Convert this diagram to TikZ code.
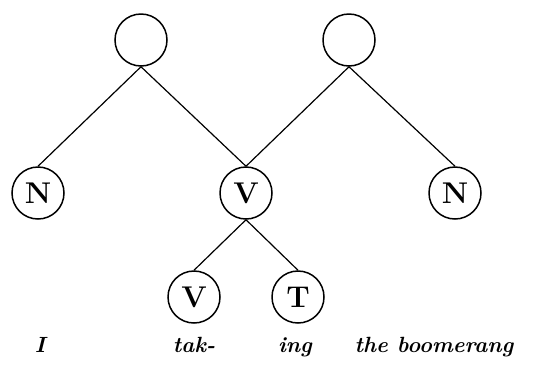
\documentclass[tikz,border=0pt]{standalone}
\usepackage{fontspec}
\begin{document}
\begin{tikzpicture}[x=1pt,y=-1pt,
  nd/.style={circle,draw,line width=1.5pt,minimum size=52pt,inner sep=0pt,font=\fontsize{30}{30}\selectfont\bfseries},
  ed/.style={line width=1.2pt},
  wd/.style={anchor=base,inner sep=0pt,font=\fontsize{22}{22}\selectfont\bfseries\itshape\addfontfeature{LetterSpace=6}}]
\useasboundingbox (0,0) rectangle (540,365);
\node[nd] (A) at (141,40) {};
\node[nd] (B) at (349,40) {};
\node[nd] (N1) at (38,193) {N};
\node[nd] (V1) at (246,193) {V};
\node[nd] (N2) at (455,193) {N};
\node[nd] (V2) at (194,297) {V};
\node[nd] (T) at (298,297) {T};
\draw[ed] (A.south) -- (N1.north);
\draw[ed] (A.south) -- (V1.north);
\draw[ed] (B.south) -- (V1.north);
\draw[ed] (B.south) -- (N2.north);
\draw[ed] (V1.south) -- (V2.north);
\draw[ed] (V1.south) -- (T.north);
\node[wd] (w1) at (40,352) {I};
\node[wd] (w2) at (194,352) {tak-};
\node[wd] (w3) at (295,352) {ing};
\node[wd] (w4) at (434,352) {the boomerang};
\end{tikzpicture}
\end{document}
